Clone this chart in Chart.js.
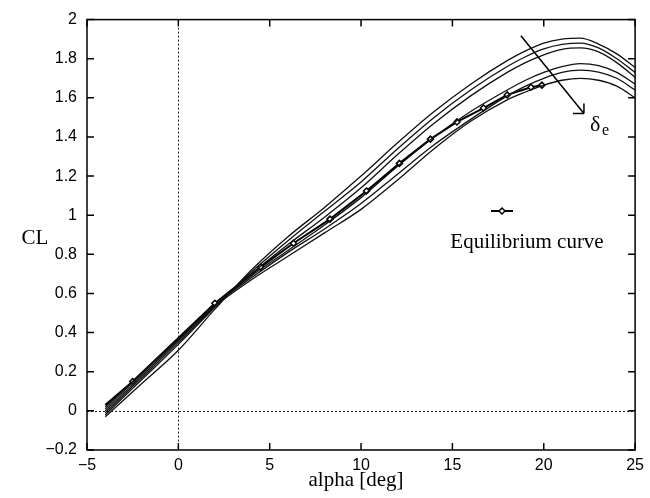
<!DOCTYPE html>
<html lang="en">
<head>
  <meta charset="UTF-8">
  <title>CL vs alpha</title>
  <script src="https://cdn.jsdelivr.net/npm/chart.js"></script>
  <style>
    body { margin: 0; background: #fff; }
    #wrap { width: 650px; height: 498px; }
  </style>
</head>
<body>
  <div id="wrap"><canvas id="clChart" width="650" height="498"></canvas></div>

  <script>
    // angle of attack grid for the elevator-deflection curves (deg)
    const alphaGrid = [-4, -2, 0, 2, 4, 6, 8, 10, 12, 14, 16, 18, 19, 20, 21, 22, 23, 24, 25];

    // CL curves, one per elevator deflection (top to bottom at high alpha)
    const clDe1 = [-0.03, 0.14, 0.31, 0.52, 0.72, 0.89, 1.04, 1.20, 1.37, 1.53, 1.67, 1.79, 1.84, 1.88, 1.90, 1.905, 1.875, 1.825, 1.755];
    const clDe2 = [-0.02, 0.16, 0.34, 0.53, 0.71, 0.87, 1.02, 1.17, 1.34, 1.50, 1.64, 1.76, 1.81, 1.85, 1.873, 1.88, 1.855, 1.80, 1.73];
    const clDe3 = [-0.01, 0.17, 0.35, 0.535, 0.70, 0.85, 0.99, 1.14, 1.31, 1.47, 1.61, 1.73, 1.78, 1.82, 1.848, 1.855, 1.835, 1.78, 1.705];
    const clDe4 = [0.00, 0.18, 0.36, 0.54, 0.69, 0.82, 0.95, 1.09, 1.25, 1.40, 1.53, 1.64, 1.69, 1.73, 1.76, 1.775, 1.765, 1.73, 1.67];
    const clDe5 = [0.01, 0.19, 0.365, 0.54, 0.68, 0.81, 0.93, 1.06, 1.21, 1.36, 1.49, 1.61, 1.66, 1.70, 1.73, 1.742, 1.732, 1.70, 1.64];
    const clDe6 = [0.02, 0.195, 0.37, 0.535, 0.67, 0.79, 0.91, 1.03, 1.18, 1.34, 1.48, 1.59, 1.63, 1.665, 1.69, 1.70, 1.69, 1.66, 1.60];

    // equilibrium (trim) curve
    const eqAlpha = [-4, -2.5, 2.0, 4.5, 6.3, 8.3, 10.3, 12.1, 13.8, 15.25, 16.7, 18.0, 19.3, 19.9];
    const eqCL    = [0.03, 0.15, 0.55, 0.735, 0.857, 0.98, 1.124, 1.265, 1.389, 1.477, 1.548, 1.615, 1.654, 1.665];

    const xTicks = [-5, 0, 5, 10, 15, 20, 25];
    const yTicks = [-0.2, 0, 0.2, 0.4, 0.6, 0.8, 1, 1.2, 1.4, 1.6, 1.8, 2];

    // arrow showing increasing elevator deflection: [alpha, CL] start and end
    const arrowFrom = [18.75, 1.917];
    const arrowTo   = [22.2, 1.52];

    const deCurves = [clDe1, clDe2, clDe3, clDe4, clDe5, clDe6];
    const pts = (xs, ys) => xs.map((x, i) => ({ x: x, y: ys[i] }));

    const datasets = deCurves.map((c, i) => ({
      label: 'de' + (i + 1),
      data: pts(alphaGrid, c),
      borderColor: '#111',
      borderWidth: 1.3,
      pointRadius: 0,
      cubicInterpolationMode: 'monotone',
      fill: false
    }));
    datasets.push({
      label: 'Equilibrium curve',
      data: pts(eqAlpha, eqCL),
      borderColor: '#000',
      borderWidth: 2,
      pointRadius: eqAlpha.map((a, i) => i === 0 ? 0 : 3),
      pointStyle: 'rectRot',
      pointBackgroundColor: '#fff',
      pointBorderColor: '#000',
      pointBorderWidth: 1.5,
      tension: 0,
      fill: false
    });

    const fmt = v => {
      const s = String(Math.round(v * 10) / 10);
      return s.replace('-', '\u2212');
    };

    // box, inward ticks, dotted zero lines, annotations
    const decor = {
      id: 'decor',
      beforeDatasetsDraw(chart) {
        const { ctx, chartArea: a, scales: { x, y } } = chart;
        ctx.save();
        ctx.strokeStyle = '#222';
        ctx.lineWidth = 1;
        ctx.setLineDash([2, 2]);
        const x0 = Math.round(x.getPixelForValue(0)) + 0.5;
        const y0 = Math.round(y.getPixelForValue(0)) + 0.5;
        ctx.beginPath();
        ctx.moveTo(x0, a.top); ctx.lineTo(x0, a.bottom);
        ctx.moveTo(a.left, y0); ctx.lineTo(a.right, y0);
        ctx.stroke();
        ctx.restore();
      },
      afterDraw(chart) {
        const { ctx, chartArea: a, scales: { x, y } } = chart;
        ctx.save();
        ctx.strokeStyle = '#000';
        ctx.lineWidth = 1.5;
        ctx.strokeRect(a.left, a.top, a.right - a.left, a.bottom - a.top);
        const tl = 7;
        ctx.beginPath();
        xTicks.forEach(v => {
          const px = x.getPixelForValue(v);
          ctx.moveTo(px, a.bottom); ctx.lineTo(px, a.bottom - tl);
          ctx.moveTo(px, a.top); ctx.lineTo(px, a.top + tl);
        });
        yTicks.forEach(v => {
          const py = y.getPixelForValue(v);
          ctx.moveTo(a.left, py); ctx.lineTo(a.left + tl, py);
          ctx.moveTo(a.right, py); ctx.lineTo(a.right - tl, py);
        });
        ctx.stroke();

        // axis titles
        ctx.fillStyle = '#000';
        ctx.font = '21px "Liberation Serif", "Times New Roman", serif';
        ctx.textAlign = 'center';
        ctx.textBaseline = 'alphabetic';
        ctx.fillText('alpha [deg]', 356, 486);
        ctx.fillText('CL', 35, 244);

        // legend entry
        const ly = 211;
        ctx.lineWidth = 2;
        ctx.beginPath();
        ctx.moveTo(491, ly); ctx.lineTo(513, ly);
        ctx.stroke();
        ctx.beginPath();
        ctx.moveTo(502, ly - 3); ctx.lineTo(505, ly); ctx.lineTo(502, ly + 3); ctx.lineTo(499, ly);
        ctx.closePath();
        ctx.fillStyle = '#fff';
        ctx.fill();
        ctx.lineWidth = 1.5;
        ctx.stroke();
        ctx.fillStyle = '#000';
        ctx.fillText('Equilibrium curve', 527, 248);

        // delta_e arrow
        const sx = x.getPixelForValue(arrowFrom[0]), sy = y.getPixelForValue(arrowFrom[1]);
        const ex = x.getPixelForValue(arrowTo[0]), ey = y.getPixelForValue(arrowTo[1]);
        ctx.lineWidth = 1.5;
        ctx.beginPath();
        ctx.moveTo(sx, sy); ctx.lineTo(ex, ey);
        ctx.moveTo(ex, ey); ctx.lineTo(ex - 11, ey);
        ctx.moveTo(ex, ey); ctx.lineTo(ex, ey - 10);
        ctx.stroke();
        ctx.textAlign = 'left';
        ctx.font = '22px "Liberation Serif", "Times New Roman", serif';
        ctx.fillText('\u03b4', 590, 131);
        ctx.font = '16px "Liberation Serif", "Times New Roman", serif';
        ctx.fillText('e', 602, 135);
        ctx.restore();
      }
    };

    new Chart(document.getElementById('clChart'), {
      type: 'line',
      data: { datasets: datasets },
      options: {
        responsive: false,
        animation: false,
        events: [],
        layout: { padding: { top: 17, right: 12, left: 0, bottom: 0 } },
        plugins: { legend: { display: false }, tooltip: { enabled: false } },
        scales: {
          x: {
            type: 'linear', min: -5, max: 25,
            grid: { display: false, drawTicks: false },
            border: { display: false },
            afterFit: s => { s.height = 48; },
            afterBuildTicks: s => { s.ticks = xTicks.map(v => ({ value: v })); },
            ticks: {
              padding: 6, color: '#000', maxRotation: 0,
              font: { family: '"Liberation Sans", Arial, sans-serif', size: 16 },
              callback: v => fmt(v)
            }
          },
          y: {
            type: 'linear', min: -0.2, max: 2,
            grid: { display: false, drawTicks: false },
            border: { display: false },
            afterFit: s => { s.width = 87; },
            afterBuildTicks: s => { s.ticks = yTicks.map(v => ({ value: v })); },
            ticks: {
              padding: 10, color: '#000',
              font: { family: '"Liberation Sans", Arial, sans-serif', size: 16 },
              callback: v => fmt(v)
            }
          }
        }
      },
      plugins: [decor]
    });
  </script>
</body>
</html>
